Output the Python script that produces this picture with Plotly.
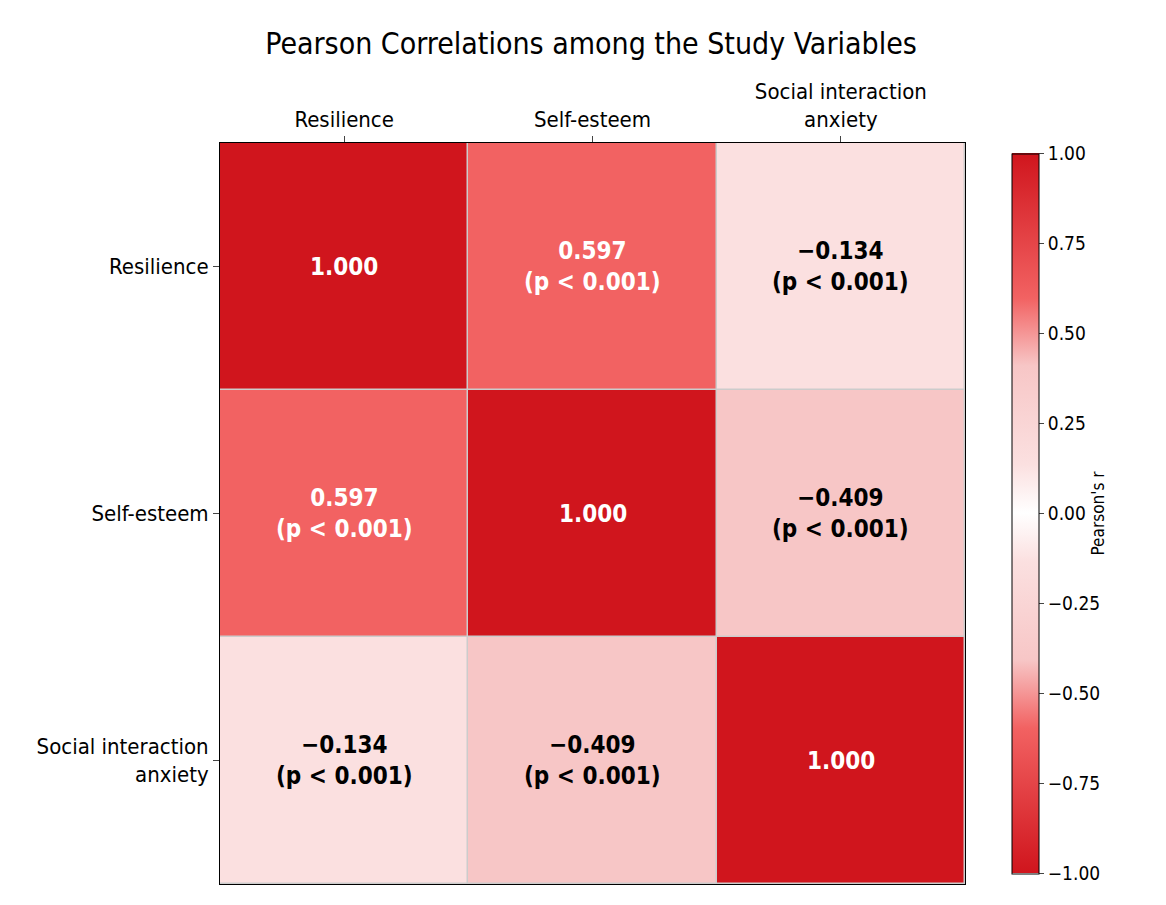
import plotly.graph_objects as go

labels = ["Resilience", "Self-esteem", "Social interaction<br>anxiety"]
r = [[1.000, 0.597, -0.134],
     [0.597, 1.000, -0.409],
     [-0.134, -0.409, 1.000]]
ptxt = [["", "(p < 0.001)", "(p < 0.001)"],
        ["(p < 0.001)", "", "(p < 0.001)"],
        ["(p < 0.001)", "(p < 0.001)", ""]]

def pos(v):
    return (v + 1) / 2

cs = [[0, "#d0151d"], [pos(-0.597), "#f26262"], [pos(-0.409), "#f7c6c6"], [pos(-0.134), "#fbe0e0"],
      [0.5, "#ffffff"],
      [pos(0.134), "#fbe0e0"], [pos(0.409), "#f7c6c6"], [pos(0.597), "#f26262"], [1, "#d0151d"]]

FONT = "DejaVu Sans Condensed, DejaVu Sans"

fig = go.Figure(go.Heatmap(
    z=r, x=[0, 1, 2], y=[0, 1, 2], zmin=-1, zmax=1, colorscale=cs, xgap=1.5, ygap=1.5,
    hoverinfo="skip",
    colorbar=dict(x=1.05, xanchor="left", y=0.5, yanchor="middle", len=740, lenmode="pixels", thickness=27,
                  outlinecolor="black", outlinewidth=1, ticks="outside",
                  tickvals=[-1, -0.75, -0.5, -0.25, 0, 0.25, 0.5, 0.75, 1],
                  ticktext=["−1.00", "−0.75", "−0.50", "−0.25", "0.00", "0.25", "0.50", "0.75", "1.00"],
                  tickfont=dict(size=19, color="black"),
                  title=dict(text="Pearson's r", side="right", font=dict(size=17, color="black")))))

for i in range(3):
    for j in range(3):
        v = r[i][j]
        col = "white" if v > 0.5 else "black"
        s = f"{v:.3f}".replace("-", "−")
        t = f"<b>{s}</b>" + (f"<br><b>{ptxt[i][j]}</b>" if ptxt[i][j] else "")
        fig.add_annotation(x=j, y=i, text=t, showarrow=False, font=dict(size=24, color=col))

fig.update_layout(
    width=1166, height=905, paper_bgcolor="white", plot_bgcolor="#cccccc",
    font=dict(family=FONT, color="black"),
    title=dict(text="Pearson Correlations among the Study Variables", x=0.5, xanchor="center",
               y=0.972, font=dict(size=30)),
    margin=dict(l=212, r=209, t=135, b=29),
    xaxis=dict(tickvals=[0, 1, 2], ticktext=labels, side="top", ticks="outside", ticklen=6,
               showline=True, linecolor="black", mirror=True, tickfont=dict(size=22),
               showgrid=False, zeroline=False, range=[-0.5, 2.5]),
    yaxis=dict(tickvals=[0, 1, 2], ticktext=labels, autorange="reversed", ticks="outside", ticklen=6,
               showline=True, linecolor="black", mirror=True, tickfont=dict(size=22),
               showgrid=False, zeroline=False),
)
fig.write_html("out.html")
